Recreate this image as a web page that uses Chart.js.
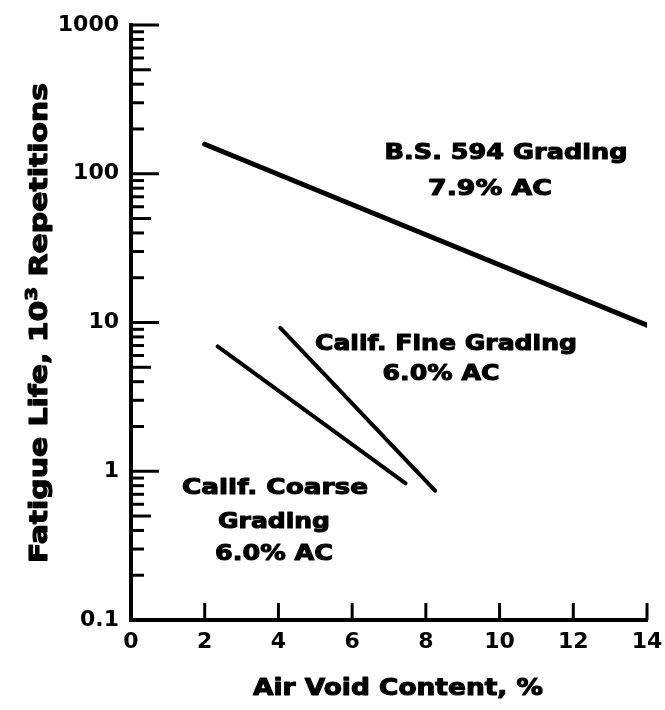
<!DOCTYPE html>
<html>
<head>
<meta charset="utf-8">
<script src="https://cdn.jsdelivr.net/npm/chart.js@4"></script>
<style>
  html, body { margin: 0; padding: 0; background: #fff; }
  canvas { display: block; }
</style>
</head>
<body>
<canvas id="c" width="665" height="710"></canvas>
<script>
// Fatigue life vs. air void content, three mix gradings (end points of each fitted line)
const bsVoids = [2.0, 14.0];
const bsLife = [158, 9.6];
const fineVoids = [4.05, 8.25];
const fineLife = [9.2, 0.74];
const coarseVoids = [2.35, 7.45];
const coarseLife = [6.9, 0.83];

// Axis ticks
const xTickValues = [0, 2, 4, 6, 8, 10, 12, 14];
const yTickValues = [0.1, 1, 10, 100, 1000];
const yTickLabels = ['0.1', '1', '10', '100', '1000'];
const minorMultipliers = [2, 3, 4, 5, 6, 7, 8, 9];

// Texts
const xTitle = 'Air Void Content, %';
const yTitleParts = ['Fatigue Life, 10', '3', ' Repetitions'];
const bsLabel = ['B.S. 594 Grading', '7.9% AC'];
const fineLabel = ['Calif. Fine Grading', '6.0% AC'];
const coarseLabel = ['Calif. Coarse', 'Grading', '6.0% AC'];

const FONT = '"DejaVu Sans", "Liberation Sans", sans-serif';

function toPoints(xs, ys) {
  return xs.map((x, i) => ({ x: x, y: ys[i] }));
}

function lineSet(label, xs, ys, width) {
  return {
    label: label,
    data: toPoints(xs, ys),
    showLine: true,
    borderColor: '#000',
    backgroundColor: '#000',
    borderWidth: width,
    borderCapStyle: 'round',
    pointRadius: 0,
    fill: false
  };
}

// Heavy bold text made of segments (text, size, rise), stretched horizontally
// to a total width and centred on (cx, cy)
function wideRich(ctx, segs, cx, cy, width, angle) {
  ctx.save();
  let total = 0;
  const widths = segs.map(s => {
    ctx.font = 'bold ' + s.size + 'px ' + FONT;
    const w = ctx.measureText(s.text).width;
    total += w;
    return w;
  });
  ctx.translate(cx, cy);
  if (angle) ctx.rotate(angle);
  ctx.scale(width / total, 1);
  ctx.textAlign = 'left';
  ctx.textBaseline = 'alphabetic';
  ctx.fillStyle = '#000';
  ctx.strokeStyle = '#000';
  ctx.lineWidth = 1.1;
  ctx.lineJoin = 'round';
  const base = segs[0].size * 0.365;
  let x = -total / 2;
  segs.forEach((s, i) => {
    ctx.font = 'bold ' + s.size + 'px ' + FONT;
    ctx.fillText(s.text, x, base - (s.rise || 0));
    ctx.strokeText(s.text, x, base - (s.rise || 0));
    x += widths[i];
  });
  ctx.restore();
}

function wideText(ctx, text, cx, cy, size, width, angle) {
  wideRich(ctx, [{ text: text, size: size }], cx, cy, width, angle);
}

// fixed axis boxes so the plot area keeps its place
function fixPadding(s) {
  s.paddingLeft = 0;
  s.paddingRight = 0;
  s.paddingTop = 0;
  s.paddingBottom = 0;
}

const decorations = {
  id: 'decorations',
  afterDraw(chart) {
    const ctx = chart.ctx;
    const area = chart.chartArea;
    const xs = chart.scales.x;
    const ys = chart.scales.y;

    ctx.save();
    ctx.strokeStyle = '#000';
    ctx.lineCap = 'butt';

    // inward ticks on the y axis: decades long, fives medium, others short
    ctx.lineWidth = 3;
    yTickValues.forEach(v => {
      const py = ys.getPixelForValue(v);
      ctx.beginPath();
      ctx.moveTo(area.left, py);
      ctx.lineTo(area.left + 28, py);
      ctx.stroke();
    });
    yTickValues.slice(0, -1).forEach(d => {
      minorMultipliers.forEach(m => {
        const py = ys.getPixelForValue(d * m);
        const len = m === 5 ? 20 : 13;
        ctx.beginPath();
        ctx.moveTo(area.left, py);
        ctx.lineTo(area.left + len, py);
        ctx.stroke();
      });
    });

    // inward ticks on the x axis
    xTickValues.slice(1).forEach(v => {
      const px = xs.getPixelForValue(v);
      ctx.beginPath();
      ctx.moveTo(px, area.bottom);
      ctx.lineTo(px, area.bottom - 17);
      ctx.stroke();
    });
    ctx.restore();

    // curve labels
    wideText(ctx, bsLabel[0], 506, 151, 22, 243);
    wideText(ctx, bsLabel[1], 490, 187, 22, 124);
    wideText(ctx, fineLabel[0], 446, 342, 22, 262);
    wideText(ctx, fineLabel[1], 441, 372, 22, 117);
    wideText(ctx, coarseLabel[0], 275, 486, 22, 186);
    wideText(ctx, coarseLabel[1], 274, 520, 22, 112);
    wideText(ctx, coarseLabel[2], 274, 552, 22, 118);

    // axis titles
    wideText(ctx, xTitle, 398, 687, 23, 290);
    wideRich(ctx, [
      { text: yTitleParts[0], size: 24 },
      { text: yTitleParts[1], size: 16, rise: 10 },
      { text: yTitleParts[2], size: 24 }
    ], 38, 323, 480, -Math.PI / 2);
  }
};

new Chart(document.getElementById('c'), {
  type: 'scatter',
  data: {
    datasets: [
      lineSet(bsLabel[0], bsVoids, bsLife, 5),
      lineSet(fineLabel[0], fineVoids, fineLife, 4),
      lineSet(coarseLabel.slice(0, 2).join(' '), coarseVoids, coarseLife, 4)
    ]
  },
  options: {
    responsive: false,
    animation: false,
    layout: { padding: { top: 25, right: 18, left: 0, bottom: 0 } },
    plugins: {
      legend: { display: false },
      tooltip: { enabled: false },
      title: { display: false }
    },
    scales: {
      x: {
        type: 'linear',
        min: 0,
        max: 14,
        afterBuildTicks: s => { s.ticks = xTickValues.map(v => ({ value: v })); },
        afterFit: s => { s.height = 90; fixPadding(s); },
        ticks: {
          color: '#000',
          font: { family: FONT, weight: 'bold', size: 22 },
          padding: 9,
          maxRotation: 0,
          autoSkip: false
        },
        grid: { display: false, drawTicks: false },
        border: { display: true, color: '#000', width: 4 }
      },
      y: {
        type: 'logarithmic',
        min: 0.1,
        max: 1000,
        afterBuildTicks: s => { s.ticks = yTickValues.map(v => ({ value: v })); },
        afterFit: s => { s.width = 131; fixPadding(s); },
        ticks: {
          color: '#000',
          font: { family: FONT, weight: 'bold', size: 22 },
          padding: 12,
          autoSkip: false,
          callback: v => yTickLabels[yTickValues.indexOf(v)]
        },
        grid: { display: false, drawTicks: false },
        border: { display: true, color: '#000', width: 4 }
      }
    }
  },
  plugins: [decorations]
});
</script>
</body>
</html>
